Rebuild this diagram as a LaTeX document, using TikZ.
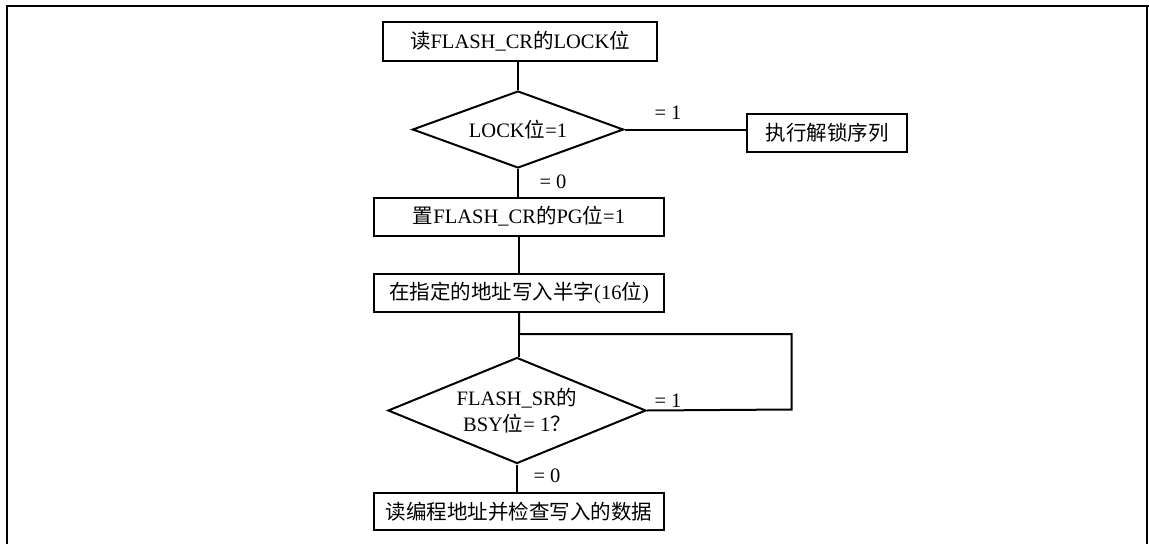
\documentclass[tikz,border=0pt]{standalone}
\usepackage{fontspec}
\setmainfont{Liberation Serif}
\newfontfamily\cjk{Noto Sans CJK SC}
\usetikzlibrary{shapes.geometric}
\newcommand{\zh}[1]{{\cjk #1}}
\begin{document}
\begin{tikzpicture}[x=1pt,y=-1pt,
  txt/.style={font=\fontsize{20.5}{27}\selectfont},
  box/.style={draw, line width=2pt, inner sep=0pt, minimum width=290pt, minimum height=38pt, txt},
  dec/.style={draw, diamond, line width=2pt, inner sep=0pt, txt, align=center},
  conn/.style={line width=2pt},
  lab/.style={txt, inner sep=0pt}]
\useasboundingbox (0,0) rectangle (1149,544);
\draw[line width=2.2pt] (7,544) -- (7,6) -- (1149,6);
\draw[line width=2.2pt] (1147,6) -- (1147,544);

\node[box, minimum width=274pt, minimum height=39pt] (b1) at (520,41) {\zh{读}FLASH\_CR\zh{的}LOCK\zh{位}};
\node[dec, aspect=2.74, minimum width=211pt, minimum height=77pt] (d1) at (518,129.5) {LOCK\zh{位}=1};
\node[box, minimum width=160pt, minimum height=38pt] (b2) at (827,132.5) {\zh{执行解锁序列}};
\node[box] (b3) at (519,216.5) {\zh{置}FLASH\_CR\zh{的}PG\zh{位}=1};
\node[box] (b4) at (519,292.5) {\zh{在指定的地址写入半字}(16\zh{位})};
\node[dec, aspect=2.43, minimum width=258pt, minimum height=106pt] (d2) at (517,410.5) {FLASH\_SR\zh{的}\\[-1pt]BSY\zh{位}= 1\zh{？}};
\node[box, minimum height=37pt] (b5) at (519,511.5) {\zh{读编程地址并检查写入的数据}};

\coordinate (l1) at (519,334);
\coordinate (l2) at (791.5,334);
\coordinate (l3) at (791.5,409.5);

\draw[conn] (b1.south -| d1.north) -- (d1.north);
\draw[conn] (d1.east) -- (d1.east -| b2.west);
\draw[conn] (d1.south) -- (d1.south |- b3.north);
\draw[conn] (b3.south -| 519,0) -- (b4.north -| 519,0);
\draw[conn] (b4.south -| 519,0) -- (l1) -- (l2) -- (l3) -- (d2.east);
\draw[conn] (l1) -- (d2.north -| l1);
\draw[conn] (d2.south) -- (d2.south |- b5.north);

\node[lab] (e1) at (668,113) {= 1};
\node[lab] (e0) at (553,182) {= 0};
\node[lab] (f1) at (668,401) {= 1};
\node[lab] (f0) at (547,476) {= 0};
\end{tikzpicture}
\end{document}
